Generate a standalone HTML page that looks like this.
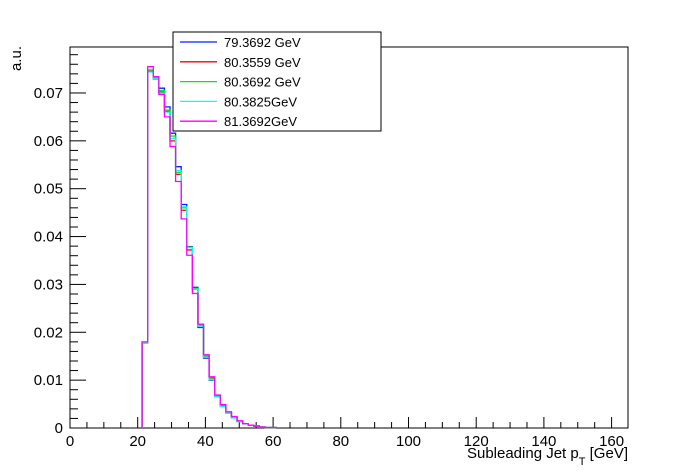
<!DOCTYPE html>
<html><head><meta charset="utf-8"><style>
body{margin:0;background:#fff;}
svg{display:block;font-family:"Liberation Sans",sans-serif;}
</style></head><body>
<svg id="c" width="698" height="476"></svg>
<script>
const binStart = 21.3, binWidth = 1.65;
const seriesNames = ["79.3692 GeV","80.3559 GeV","80.3692 GeV","80.3825GeV","81.3692GeV"];
const seriesColors = ["#0022ff","#ff0000","#00ee00","#00ffff","#ff00ff"];
const blueVals = [0.0178,0.0745,0.0732,0.0710,0.0671,0.0616,0.0546,0.0467,0.0379,0.0294,0.0210,0.0146,0.0100,0.0067,0.0046,0.0032,0.0022,0.0014,0.0009,0.0006,0.0004,0.0002,0.0001,0.0001];
const redVals = [0.0179,0.0748,0.0733,0.0702,0.0662,0.0600,0.0530,0.0455,0.0372,0.0290,0.0214,0.0150,0.0104,0.0068,0.0047,0.0033,0.0023,0.0014,0.0009,0.0006,0.0004,0.0002,0.0001,0.0001];
const greenVals = [0.0179,0.0748,0.0729,0.0705,0.0664,0.0610,0.0534,0.0460,0.0378,0.0292,0.0216,0.0151,0.0104,0.0066,0.0046,0.0031,0.0022,0.0014,0.0009,0.0006,0.0004,0.0002,0.0001,0.0001];
const cyanVals = [0.0177,0.0744,0.0731,0.0700,0.0660,0.0605,0.0538,0.0462,0.0377,0.0290,0.0213,0.0148,0.0101,0.0065,0.0045,0.0031,0.0021,0.0013,0.0009,0.0006,0.0004,0.0002,0.0001,0.0001];
const magentaVals = [0.0180,0.0755,0.0734,0.0697,0.0650,0.0588,0.0515,0.0437,0.0361,0.0281,0.0217,0.0153,0.0107,0.0069,0.0049,0.0034,0.0024,0.0015,0.0009,0.0006,0.0004,0.0002,0.0001,0.0001];
const xTickLabels = [0,20,40,60,80,100,120,140,160];
const yTickLabels = ["0","0.01","0.02","0.03","0.04","0.05","0.06","0.07"];

const NS="http://www.w3.org/2000/svg";
const svg=document.getElementById('c');
const L=70,R=628,T=47,B=428;
const xs=v=>L+v*3.385;
const ys=v=>B-v*4786;
function mk(t,a,p){const e=document.createElementNS(NS,t);for(const k in a)e.setAttribute(k,a[k]);(p||svg).appendChild(e);return e;}

const frame=mk('rect',{x:L,y:T,width:R-L,height:B-T,fill:'none',stroke:'#000','stroke-width':1});



for(let v=0;v<=164;v+=5){const maj=v%20===0;mk('line',{x1:xs(v),x2:xs(v),y1:B,y2:B-(maj?11:6),stroke:'#000'});}
xTickLabels.forEach(v=>{const t=mk('text',{x:xs(v),y:446,'font-size':15,'text-anchor':'middle'});t.textContent=v;

});
for(let i=0;i<=39;i++){const v=i*0.002;if(ys(v)<T)break;const maj=i%5===0;mk('line',{x1:L,x2:L+(maj?16:8),y1:ys(v),y2:ys(v),stroke:'#000'});}
yTickLabels.forEach((s,i)=>{const t=mk('text',{x:63,y:ys(i*0.01)+5,'font-size':15,'text-anchor':'end'});t.textContent=s;

});

const xt=mk('text',{x:628,y:458,'font-size':15,'text-anchor':'end'});
xt.innerHTML='Subleading Jet p<tspan font-size="11" dy="7">T</tspan><tspan dy="-7"> [GeV]</tspan>';


const yt=mk('text',{x:0,y:0,'font-size':15,'text-anchor':'end',transform:'translate(21,46) rotate(-90)'});
yt.textContent='a.u.';



const all=[blueVals,redVals,greenVals,cyanVals,magentaVals];
all.forEach((vals,si)=>{
  let d='M'+xs(binStart)+','+B;
  vals.forEach((v,i)=>{const x0=xs(binStart+i*binWidth),x1=xs(binStart+(i+1)*binWidth);d+=' L'+x0+','+ys(v)+' L'+x1+','+ys(v);});
  d+=' L'+xs(binStart+vals.length*binWidth)+','+B;
  const p=mk('path',{d:d,fill:'none',stroke:seriesColors[si],'stroke-width':1.3});
  
  
});

const lg=mk('g',{});


mk('rect',{x:173,y:32,width:208,height:99,fill:'#fff',stroke:'#000'},lg);
seriesNames.forEach((n,i)=>{
  const y=42+i*19.8;
  const g=mk('g',{},lg);
  
  
  mk('line',{x1:180,x2:217,y1:y,y2:y,stroke:seriesColors[i],'stroke-width':1.3},g);
  const t=mk('text',{x:224,y:y+5,'font-size':13},g);t.textContent=n;
});
</script>
</body></html>
